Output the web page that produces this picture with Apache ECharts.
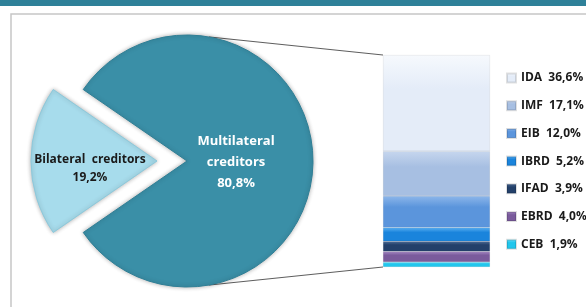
<!DOCTYPE html>
<html><head><meta charset="utf-8">
<script src="https://cdn.jsdelivr.net/npm/echarts@6/dist/echarts.min.js"></script>
<style>html,body{margin:0;padding:0;background:#fff}#c{width:586px;height:307px}</style>
</head><body><div id="c"></div>
<script>
// Data
const pieNames = ['Bilateral  creditors', 'Multilateral\ncreditors'];
const pieValues = [19.2, 80.8];
const pieLabels = ['19,2%', '80,8%'];
const barNames = ['IDA', 'IMF', 'EIB', 'IBRD', 'IFAD', 'EBRD', 'CEB'];
const barValues = [36.6, 17.1, 12.0, 5.2, 3.9, 4.0, 1.9];
const barLabels = ['36,6%', '17,1%', '12,0%', '5,2%', '3,9%', '4,0%', '1,9%'];
const barColors = ['#e4ecf8', '#a7bfe2', '#5b95dc', '#1a84dc', '#23406a', '#7a5b9c', '#22c6ec'];
const barHi = ['#f6f9fd', '#c6d6ee', '#8cb6ea', '#5cb0f2', '#4f6e98', '#a68ac4', '#7fe2f8'];

// Layout
const cx = 187, cy = 161, R = 126;
const gLeft = 383, gTop = 55, gW = 107, gH = 212;
const total = barValues.reduce((a, b) => a + b, 0);
const labelShift = [[-1, 8], [-17, 1]];

const chart = echarts.init(document.getElementById('c'), null, {renderer: 'canvas'});
const font = '"Open Sans", Lato, sans-serif';

const a1 = 80 * Math.PI / 180;
const p1 = [cx + R * Math.cos(a1), cy - R * Math.sin(a1)];
const p2 = [cx + R * Math.cos(a1), cy + R * Math.sin(a1)];

const barSeries = barNames.map((n, i) => ({
  name: n, type: 'bar', stack: 's', barWidth: '100%',
  data: [barValues[i]],
  itemStyle: {
    color: new echarts.graphic.LinearGradient(0, 0, 0, 1, [
      {offset: 0, color: barHi[i]}, {offset: 0.35, color: barColors[i]}, {offset: 1, color: barColors[i]}
    ]),
    borderColor: 'rgba(0,0,0,0.12)', borderWidth: 0.5
  },
  emphasis: {disabled: true},
  z: 3
}));

const option = {
  animation: false,
  graphic: [
    {type: 'rect', shape: {x: 0, y: 0, width: 586, height: 6}, style: {fill: '#2f8199'}, z: 0},
    {type: 'rect', shape: {x: 11, y: 14, width: 620, height: 320}, style: {fill: '#fff', stroke: '#c6c6c6', lineWidth: 1.5}, z: -1},
    {type: 'line', shape: {x1: p1[0], y1: p1[1], x2: gLeft, y2: gTop}, style: {stroke: '#333', lineWidth: 0.8}, z: 1},
    {type: 'line', shape: {x1: p2[0], y1: p2[1], x2: gLeft, y2: gTop + gH}, style: {stroke: '#333', lineWidth: 0.8}, z: 1}
  ],
  legend: {
    data: barNames,
    orient: 'vertical', left: 501, top: 64.5,
    itemWidth: 9, itemHeight: 9, itemGap: 10.7,
    icon: 'rect',
    textStyle: {fontFamily: font, fontWeight: 'bold', fontSize: 12, color: '#1a1a1a', lineHeight: 17},
    formatter: n => n + '  ' + barLabels[barNames.indexOf(n)],
    selectedMode: false
  },
  grid: {left: gLeft, top: gTop, width: gW, height: gH},
  xAxis: {type: 'category', data: [''], show: false},
  yAxis: {type: 'value', min: 0, max: total, inverse: true, show: false},
  series: [
    {
      type: 'pie', center: [cx, cy], radius: R,
      startAngle: 180 + 19.2 * 3.6 / 2, clockwise: true,
      selectedMode: 'single', selectedOffset: 30,
      avoidLabelOverlap: false,
      data: pieNames.map((n, i) => ({
        name: n, value: pieValues[i], selected: i === 0,
        itemStyle: {color: i === 0 ? '#a7dcec' : '#3a8fa7', borderColor: i === 0 ? '#8cc9dc' : '#2f7f96', borderWidth: 1, shadowBlur: 4, shadowColor: 'rgba(0,0,0,0.3)'},
        label: i === 0
          ? {color: '#1a1a1a', fontSize: 12, lineHeight: 18}
          : {color: '#fff', fontSize: 13, lineHeight: 21}
      })),
      label: {
        show: true, position: 'inside', fontFamily: font, fontWeight: 'bold',
        formatter: p => p.name + '\n' + pieLabels[p.dataIndex]
      },
      labelLayout: p => ({dx: labelShift[p.dataIndex][0], dy: labelShift[p.dataIndex][1]}),
      labelLine: {show: false},
      emphasis: {disabled: true},
      z: 2
    },
    ...barSeries
  ]
};
chart.setOption(option);
</script></body></html>
